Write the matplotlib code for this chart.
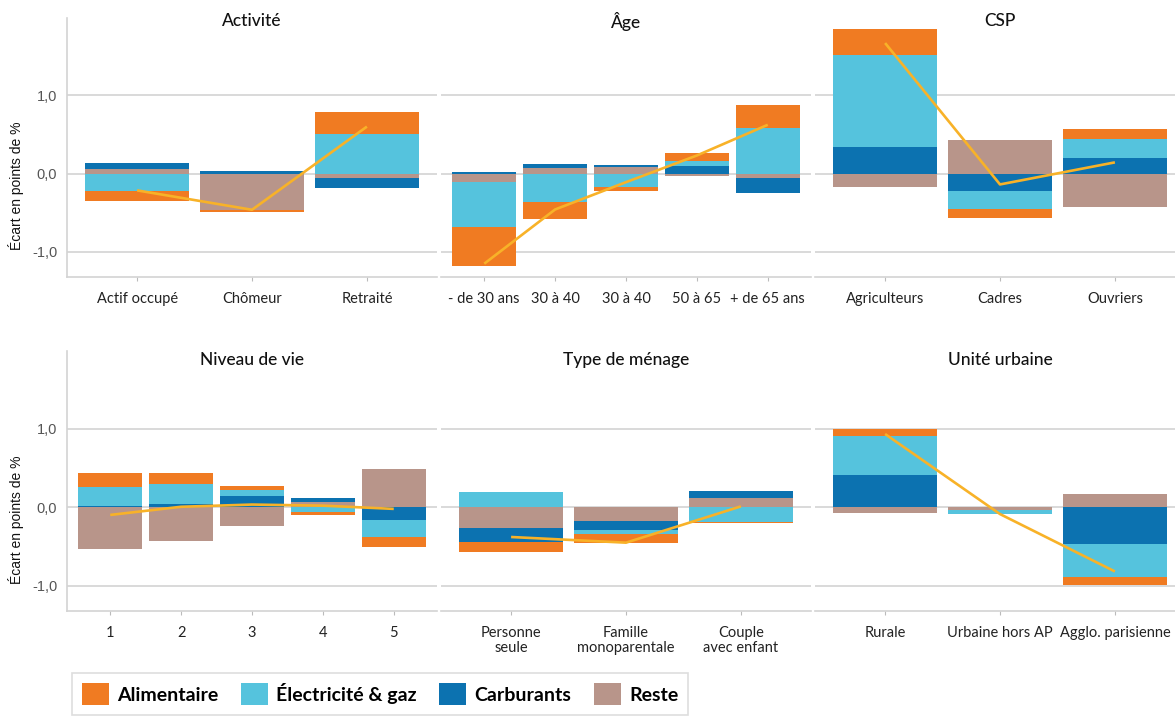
import matplotlib
matplotlib.use("Agg")
import matplotlib.pyplot as plt
import numpy as np
from matplotlib.patches import Patch

plt.rcParams['font.family'] = ['Lato', 'DejaVu Sans']

# series names and colours
series = ['Alimentaire', 'Électricité & gaz', 'Carburants', 'Reste']
colors = {'Alimentaire': '#F07B22', 'Électricité & gaz': '#55C3DD',
          'Carburants': '#0C72B0', 'Reste': '#B8958A'}
line_color = '#F8B228'

# --- data (écart en points de %) ---
act_cats = ['Actif occupé', 'Chômeur', 'Retraité']
act_alim = [-0.12, -0.025, 0.28]
act_elec = [-0.225, -0.01, 0.505]
act_carb = [0.068, 0.034, -0.128]
act_reste = [0.064, -0.46, -0.055]

age_cats = ['- de 30 ans', '30 à 40', '30 à 40', '50 à 65', '+ de 65 ans']
age_alim = [-0.50, -0.215, -0.05, 0.10, 0.285]
age_elec = [-0.57, -0.36, -0.17, 0.065, 0.59]
age_carb = [0.025, 0.05, 0.022, 0.10, -0.19]
age_reste = [-0.105, 0.068, 0.09, -0.032, -0.06]

csp_cats = ['Agriculteurs', 'Cadres', 'Ouvriers']
csp_alim = [0.325, -0.11, 0.12]
csp_elec = [1.18, -0.24, 0.245]
csp_carb = [0.34, -0.217, 0.205]
csp_reste = [-0.175, 0.43, -0.425]

niv_cats = ['1', '2', '3', '4', '5']
niv_alim = [0.18, 0.13, 0.045, -0.034, -0.128]
niv_elec = [0.24, 0.255, 0.085, -0.064, -0.22]
niv_carb = [0.013, 0.047, 0.14, 0.051, -0.157]
niv_reste = [-0.53, -0.425, -0.235, 0.068, 0.485]

men_cats = ['Personne\nseule', 'Famille\nmonoparentale', 'Couple\navec enfant']
men_alim = [-0.132, -0.106, -0.013]
men_elec = [0.196, -0.051, -0.183]
men_carb = [-0.174, -0.123, 0.089]
men_reste = [-0.268, -0.17, 0.119]

uu_cats = ['Rurale', 'Urbaine hors AP', 'Agglo. parisienne']
uu_alim = [0.094, -0.006, -0.098]
uu_elec = [0.498, -0.048, -0.421]
uu_carb = [0.409, 0.0, -0.464]
uu_reste = [-0.068, -0.032, 0.166]

panels = [
    ('Activité', act_cats, act_alim, act_elec, act_carb, act_reste),
    ('Âge', age_cats, age_alim, age_elec, age_carb, age_reste),
    ('CSP', csp_cats, csp_alim, csp_elec, csp_carb, csp_reste),
    ('Niveau de vie', niv_cats, niv_alim, niv_elec, niv_carb, niv_reste),
    ('Type de ménage', men_cats, men_alim, men_elec, men_carb, men_reste),
    ('Unité urbaine', uu_cats, uu_alim, uu_elec, uu_carb, uu_reste),
]

W, H = 1175, 717
fig = plt.figure(figsize=(W / 100, H / 100), dpi=100)

lefts = [67, 441, 815]
rows = [(18, 277), (351, 611)]  # top, bottom in px
pw = 370

for i, (title, cats, alim, elec, carb, reste) in enumerate(panels):
    r, c = divmod(i, 3)
    top, bot = rows[r]
    ax = fig.add_axes([lefts[c] / W, 1 - bot / H, pw / W, (bot - top) / H])
    x = np.arange(len(cats))
    vals = {'Alimentaire': np.array(alim), 'Électricité & gaz': np.array(elec),
            'Carburants': np.array(carb), 'Reste': np.array(reste)}
    pos = np.zeros(len(cats))
    neg = np.zeros(len(cats))
    # stack outward from zero: Reste, Carburants, Électricité, Alimentaire
    for s in ['Reste', 'Carburants', 'Électricité & gaz', 'Alimentaire']:
        v = vals[s]
        p = np.where(v > 0, v, 0)
        n = np.where(v < 0, v, 0)
        ax.bar(x, p, 0.9, bottom=pos, color=colors[s], linewidth=0, zorder=2)
        ax.bar(x, n, 0.9, bottom=neg, color=colors[s], linewidth=0, zorder=2)
        pos += p
        neg += n
    total = sum(vals[s] for s in series)
    ax.plot(x, total, color=line_color, lw=1.9, zorder=3, solid_capstyle='butt')

    ax.set_xlim(-0.61, len(cats) - 0.39)
    ax.set_ylim(-1.32, 1.99)
    ax.set_yticks([-1, 0, 1])
    ax.yaxis.grid(True, color='#CFCFCF', lw=1.1)
    ax.set_axisbelow(True)
    for sp in ['top', 'right']:
        ax.spines[sp].set_visible(False)
    ax.spines['bottom'].set_color('#D3D3D3')
    ax.spines['bottom'].set_linewidth(1.2)
    ax.set_xticks(x)
    ax.set_xticklabels(cats, fontsize=10.5, color='#222222', linespacing=1.05)
    ax.tick_params(axis='x', length=3, color='#BBBBBB', pad=8)
    if c == 0:
        ax.spines['left'].set_color('#D3D3D3')
        ax.spines['left'].set_linewidth(1.2)
        ax.set_yticklabels(['-1,0', '0,0', '1,0'], family=['Liberation Sans', 'DejaVu Sans'],
                           fontsize=10.5, color='#555555')
        ax.tick_params(axis='y', length=0, pad=7)
    else:
        ax.spines['left'].set_visible(False)
        ax.tick_params(axis='y', length=0, labelleft=False)
    ty = 0.988 if r == 0 else 0.965
    ax.text(0.5, ty, title, transform=ax.transAxes, ha='center', va='center',
            fontsize=12.5, fontweight='medium', color='#111111')

# y labels
for yc in [186, 520]:
    fig.text(16 / W, 1 - yc / H, 'Écart en points de %', rotation=90, ha='center',
             va='center', fontsize=10, family=['Liberation Sans', 'DejaVu Sans'],
             color='#111111')

handles = [Patch(facecolor=colors[s], edgecolor='none') for s in series]
leg = fig.legend(handles, series, loc='upper left',
                 bbox_to_anchor=(72 / W, 1 - 673 / H), ncol=4,
                 prop={'family': ['Lato', 'DejaVu Sans'], 'weight': 'bold', 'size': 14},
                 handlelength=1.4, handleheight=1.4, handletextpad=0.42,
                 columnspacing=1.15, borderpad=0.5, borderaxespad=0,
                 frameon=True, fancybox=False)
leg.get_frame().set_edgecolor('#D5D5D5')
leg.get_frame().set_linewidth(1.2)

fig.savefig('out.png', dpi=100)
